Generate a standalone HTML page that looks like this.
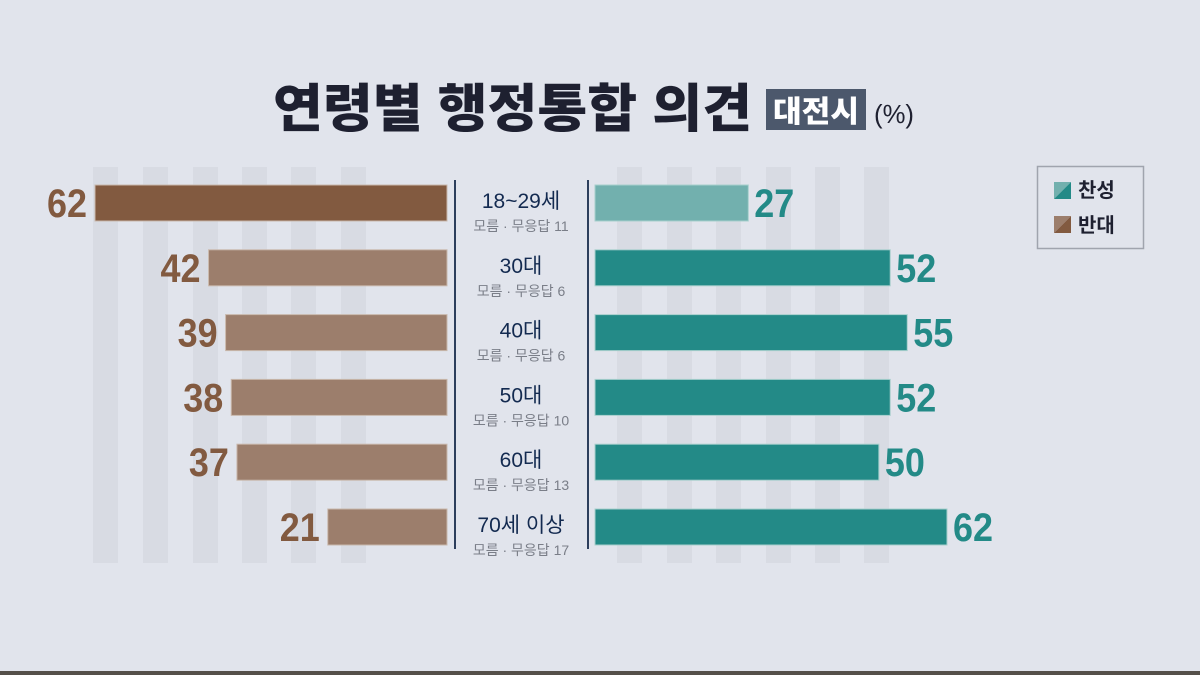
<!DOCTYPE html>
<html><head><meta charset="utf-8"><style>
html,body{margin:0;padding:0;background:#e1e4ec;}
svg{display:block;}
text{font-family:"Liberation Sans","Noto Sans CJK KR",sans-serif;}
</style></head><body>
<svg id="chart" width="1200" height="675" viewBox="0 0 1200 675">
<rect x="0" y="0" width="1200" height="675" fill="#e1e4ec"/>
<rect x="0" y="671" width="1200" height="4" fill="#55504a"/>
<g id="stripes"></g>
<text x="273" y="127" font-size="52" font-weight="900" fill="#1e2030" textLength="479" lengthAdjust="spacingAndGlyphs" font-family="'Noto Sans CJK KR',sans-serif">연령별 행정통합 의견</text>
<rect x="766" y="89" width="100" height="41" fill="#4c586c"/>
<text x="816" y="122" font-size="30" font-weight="900" fill="#fff" text-anchor="middle" textLength="86" lengthAdjust="spacingAndGlyphs" font-family="'Noto Sans CJK KR',sans-serif">대전시</text>
<text x="874" y="123" font-size="26" fill="#1e2030" textLength="40" lengthAdjust="spacingAndGlyphs">(%)</text>
<line x1="455" y1="180" x2="455" y2="549" stroke="#2c3e5c" stroke-width="2"/>
<line x1="588" y1="180" x2="588" y2="549" stroke="#2c3e5c" stroke-width="2"/>
<g id="bars"></g>
<g>
<rect x="1037.5" y="166.5" width="106" height="82" fill="none" stroke="#a0a4ae" stroke-width="1.5"/>
<polygon points="1054,182 1071,182 1054,199" fill="#72b0ae"/>
<polygon points="1071,182 1071,199 1054,199" fill="#238a87"/>
<text x="1078" y="197" font-size="20" font-weight="bold" fill="#1e2030">찬성</text>
<polygon points="1054,216 1071,216 1054,233" fill="#9c7e6c"/>
<polygon points="1071,216 1071,233 1054,233" fill="#825a40"/>
<text x="1078" y="232" font-size="20" font-weight="bold" fill="#1e2030">반대</text>
</g>
</svg>
<script>
const categories = ["18~29세","30대","40대","50대","60대","70세 이상"];
const unknownCounts = [11,6,6,10,13,17];
const agreeValues = [27,52,55,52,50,62];
const disagreeValues = [62,42,39,38,37,21];

const NS="http://www.w3.org/2000/svg";
const scale = v => v*352/62;
const rowY = i => 185 + i*64.8;
const barH = 36;
function mk(tag, attrs, parent){const e=document.createElementNS(NS,tag);for(const k in attrs)e.setAttribute(k,attrs[k]);parent.appendChild(e);return e;}
const st=document.getElementById('stripes');
[93,143,193,242,291,341,617,667,716,766,815,864].forEach(x=>{
  const r=mk('rect',{x:x,y:167,width:25,height:396,fill:'#d8dbe3'},st);
  
  
});
const g=document.getElementById('bars');
categories.forEach((c,i)=>{
  const y=rowY(i);
  const dw=scale(disagreeValues[i]);
  const r1=mk('rect',{x:447-dw,y:y,width:dw,height:barH,fill:i===0?'#825a40':'#9c7e6c',stroke:'#c9b8ac','stroke-width':1},g);
  
  
  const t1=mk('text',{x:447-dw-48,y:y+32,'font-size':40,'font-weight':'bold',fill:'#825a40',textLength:40,lengthAdjust:'spacingAndGlyphs'},g);
  t1.textContent=disagreeValues[i];
  
  
  const aw=scale(agreeValues[i]);
  const r2=mk('rect',{x:595,y:y,width:aw,height:barH,fill:i===0?'#72b0ae':'#238a87',stroke:'#a8cfcd','stroke-width':1},g);
  
  
  const t2=mk('text',{x:595+aw+6,y:y+32,'font-size':40,'font-weight':'bold',fill:'#238a87',textLength:40,lengthAdjust:'spacingAndGlyphs'},g);
  t2.textContent=agreeValues[i];
  
  
  const t3=mk('text',{x:521,y:y+23,'font-size':21,fill:'#132a50','text-anchor':'middle'},g);
  t3.textContent=c;
  
  
  const t4=mk('text',{x:521,y:y+46,'font-size':14,fill:'#7a7e88','text-anchor':'middle'},g);
  t4.textContent='모름 · 무응답 '+unknownCounts[i];
  
  
});
</script>
</body></html>
